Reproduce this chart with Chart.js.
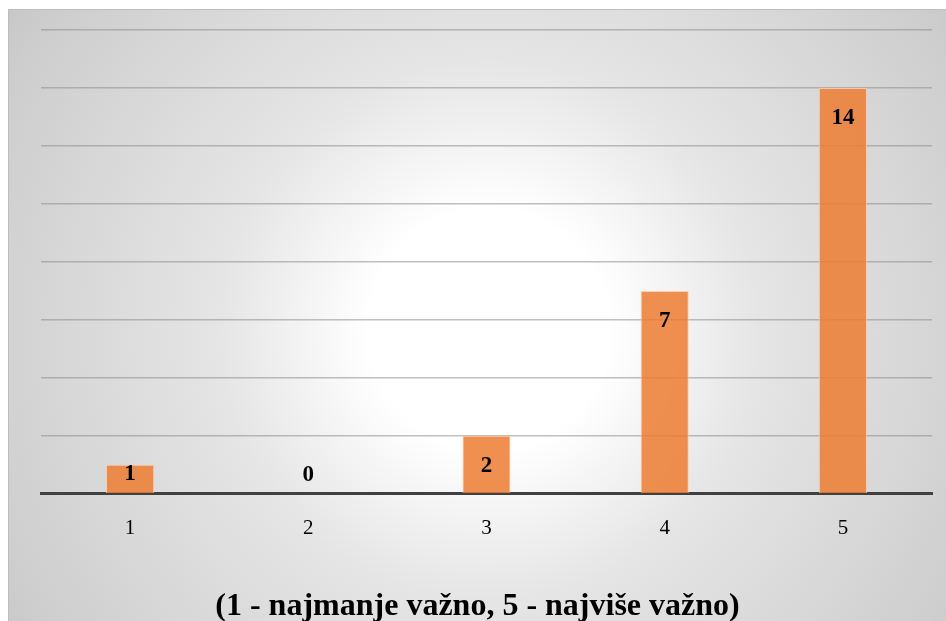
<!DOCTYPE html>
<html>
<head>
<meta charset="utf-8">
<script src="https://cdn.jsdelivr.net/npm/chart.js@4.4.1/dist/chart.umd.min.js"></script>
<style>
  html, body { margin: 0; padding: 0; background: #fff; }
  #wrap {
    position: absolute; left: 8px; top: 9px;
    width: 938px; height: 612px;
    border-left: 1px solid #bdbdbd; border-top: 1px solid #bdbdbd;
    box-sizing: border-box;
  }
</style>
</head>
<body>
<div id="wrap"><canvas id="chart"></canvas></div>
<script>
const categories = ['1', '2', '3', '4', '5'];
const values = [1, 0, 2, 7, 14];
const axisTitle = '(1 - najmanje važno, 5 - najviše važno)';
const yMax = 16;
const yStep = 2;

const serif = '"Liberation Serif", "Times New Roman", serif';

// radial grey-to-white background behind everything
const backgroundPlugin = {
  id: 'bgGradient',
  beforeDraw(chart) {
    const { ctx, width, height } = chart;
    const g = ctx.createRadialGradient(480, 320, 0, 480, 320, 600);
    g.addColorStop(0, '#ffffff');
    g.addColorStop(0.2, '#ffffff');
    g.addColorStop(0.45, '#e5e5e5');
    g.addColorStop(0.9, '#cdcdcd');
    g.addColorStop(1, '#c4c4c4');
    ctx.save();
    ctx.fillStyle = g;
    ctx.fillRect(0, 0, width, height);
    ctx.restore();
  }
};

// value labels inside the bar end, like Excel "inside end"
const labelPlugin = {
  id: 'barLabels',
  afterDatasetsDraw(chart) {
    const { ctx } = chart;
    const meta = chart.getDatasetMeta(0);
    ctx.save();
    ctx.font = 'bold 23px ' + serif;
    ctx.fillStyle = '#000';
    ctx.textAlign = 'center';
    ctx.textBaseline = 'middle';
    meta.data.forEach((bar, i) => {
      const y = Math.min(bar.y + 30, bar.base - 19);
      ctx.fillText(String(values[i]), bar.x, y);
    });
    ctx.restore();
  }
};

// category title under the axis, centred on the whole chart box
const titlePlugin = {
  id: 'bottomTitle',
  afterDraw(chart) {
    const { ctx, width, height } = chart;
    ctx.save();
    ctx.font = 'bold 32px ' + serif;
    ctx.fillStyle = '#000';
    ctx.textAlign = 'center';
    ctx.textBaseline = 'alphabetic';
    ctx.fillText(axisTitle, width / 2, height - 6);
    ctx.restore();
  }
};

new Chart(document.getElementById('chart'), {
  type: 'bar',
  data: {
    labels: categories,
    datasets: [{
      data: values,
      backgroundColor: 'rgba(237, 125, 49, 0.85)',
      borderColor: 'rgba(248, 203, 173, 0.9)',
      borderWidth: 1,
      barPercentage: 0.27,
      categoryPercentage: 1
    }]
  },
  options: {
    responsive: true,
    maintainAspectRatio: false,
    animation: false,
    layout: { padding: { left: 32, right: 14, top: 20, bottom: 58 } },
    plugins: {
      legend: { display: false },
      tooltip: { enabled: false }
    },
    scales: {
      x: {
        grid: { display: false, drawTicks: false },
        border: { display: true, color: '#404040', width: 3 },
        ticks: {
          padding: 22,
          color: '#000',
          font: { family: serif, size: 21 }
        }
      },
      y: {
        min: 0,
        max: yMax,
        ticks: { stepSize: yStep, display: false },
        grid: { color: 'rgba(140, 140, 140, 0.55)', lineWidth: 1.5, drawTicks: false },
        border: { display: false }
      }
    }
  },
  plugins: [backgroundPlugin, labelPlugin, titlePlugin]
});
</script>
</body>
</html>
